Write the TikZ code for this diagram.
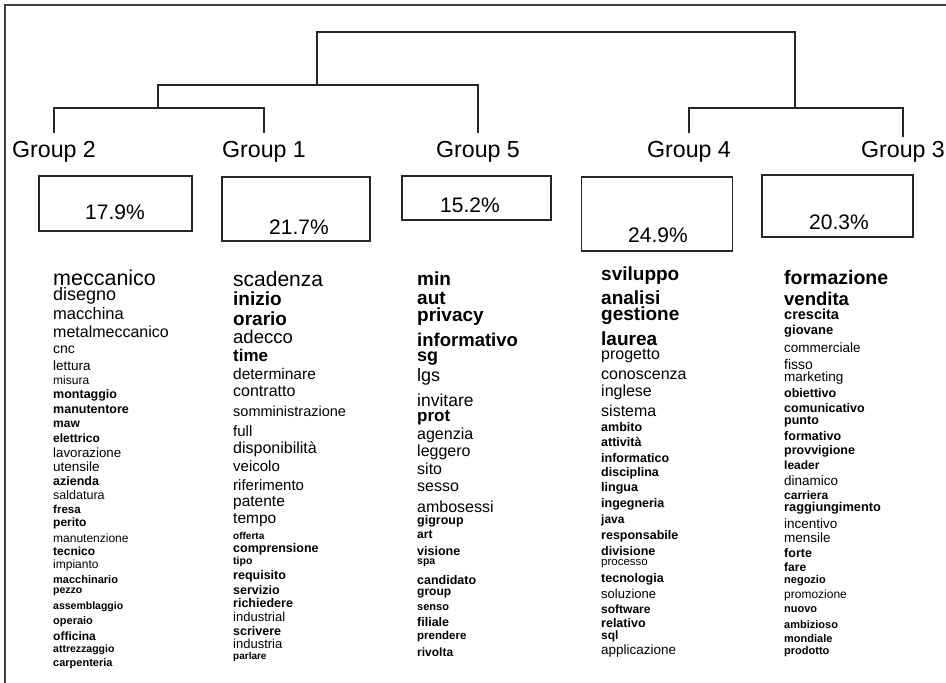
\documentclass[tikz,border=0pt]{standalone}
\usepackage{fontspec}
\setmainfont{Liberation Sans}
\begin{document}
\begin{tikzpicture}[x=1pt,y=-1pt,
  frame/.style={draw=black!75,line width=1.5pt},
  tree/.style={draw=black!85,line width=1.1pt},
  grp/.style={anchor=base,inner sep=0pt,font=\fontsize{23.2}{24}\selectfont},
  pbox/.style={draw=black!85,line width=1.2pt,rectangle,inner sep=0pt},
  pct/.style={inner sep=0pt,font=\fontsize{21}{22}\selectfont},
  word/.style={anchor=west,inner sep=0pt}]
\useasboundingbox (0,0) rectangle (946,683);
% frame (left and top rules only)
\draw[frame] (5,683) -- (5,5) -- (946,5);
% group labels
\node[grp] (g2) at (54,157) {Group 2};
\node[grp] (g1) at (264,157) {Group 1};
\node[grp] (g5) at (478,157) {Group 5};
\node[grp] (g4) at (689,157) {Group 4};
\node[grp] (g3) at (903,157) {Group 3};
\coordinate (t2) at ([yshift=8pt]g2.north);
\coordinate (t1) at ([yshift=8pt]g1.north);
\coordinate (t5) at ([yshift=8pt]g5.north);
\coordinate (t4) at ([yshift=8pt]g4.north);
\coordinate (t3) at ([yshift=4pt]g3.north);
\coordinate (j21) at (158,108);
\coordinate (j215) at (317,85);
\coordinate (j43) at (795,108);
\coordinate (top) at (556,32);
% dendrogram
\draw[tree] (t2) |- (j21) -| (t1);
\draw[tree] (j21) |- (j215) -| (t5);
\draw[tree] (t4) |- (j43) -| (t3);
\draw[tree] (j215) |- (top) -| (j43);
% percentage boxes
\node[pbox,minimum width=153pt,minimum height=55pt] (b2) at (115.5,203.5) {};
\node[pbox,minimum width=148pt,minimum height=64pt] (b1) at (296,209) {};
\node[pbox,minimum width=149pt,minimum height=44pt] (b5) at (476.5,198) {};
\node[pbox,minimum width=151pt,minimum height=74pt] (b4) at (657,214) {};
\node[pbox,minimum width=151pt,minimum height=62pt] (b3) at (837.5,206) {};
\node[pct] (p2) at (115,212) {17.9\%};
\node[pct] (p1) at (299,227) {21.7\%};
\node[pct] (p5) at (470,205) {15.2\%};
\node[pct] (p4) at (658,235) {24.9\%};
\node[pct] (p3) at (839,222) {20.3\%};
% word lists: y / font size / word
\foreach \y/\s/\t [count=\i] in {278/21.5/meccanico,296/18/disegno,314/16.5/macchina,332/16/metalmeccanico,350/14/cnc,366/13.5/lettura,380/12/misura,395/12.5/{\bfseries montaggio},409/12.5/{\bfseries manutentore},424/12/{\bfseries maw},438/12/{\bfseries elettrico},453/13.3/lavorazione,467/13.5/utensile,481/12.5/{\bfseries azienda},495/12.5/saldatura,509/11.5/{\bfseries fresa},523/12/{\bfseries perito},538/12/manutenzione,551/12/{\bfseries tecnico},565/12/impianto,580/11/{\bfseries macchinario},592/10.5/{\bfseries pezzo},607/10.5/{\bfseries assemblaggio},622/11/{\bfseries operaio},636/12/{\bfseries officina},650/10.5/{\bfseries attrezzaggio},664/11/{\bfseries carpenteria}}
  \node[word] (wa\i) at (53,\y) {\fontsize{\s}{\s}\selectfont\t};
\foreach \y/\s/\t [count=\i] in {279/21/scadenza,299/19/{\bfseries inizio},319/19/{\bfseries orario},337/18.5/adecco,355/17/{\bfseries time},374/15.5/determinare,391/16/contratto,411/14.5/somministrazione,431/15/full,449/16/disponibilità,466/15/veicolo,485/15/riferimento,503/15.5/patente,520/15.5/tempo,536/10/{\bfseries offerta},549/12.5/{\bfseries comprensione},562/10.5/{\bfseries tipo},576/12.5/{\bfseries requisito},590/12.5/{\bfseries servizio},603/12.5/{\bfseries richiedere},617/13/industrial,631/12.5/{\bfseries scrivere},644/13/industria,657/10/{\bfseries parlare}}
  \node[word] (wb\i) at (233,\y) {\fontsize{\s}{\s}\selectfont\t};
\foreach \y/\s/\t [count=\i] in {279/19/{\bfseries min},298/19/{\bfseries aut},317/19/{\bfseries privacy},340/18.5/{\bfseries informativo},359/18/{\bfseries sg},377/18/lgs,400/17.5/invitare,418/17/{\bfseries prot},435/16/agenzia,452/16/leggero,469/16/sito,487/16/sesso,507/16/ambosessi,521/12.5/{\bfseries gigroup},535/12/{\bfseries art},551/12.5/{\bfseries visione},563/10.5/{\bfseries spa},580/12.5/{\bfseries candidato},594/12/{\bfseries group},608/11/{\bfseries senso},622/12.5/{\bfseries filiale},637/11.5/{\bfseries prendere},652/12/{\bfseries rivolta}}
  \node[word] (wc\i) at (417,\y) {\fontsize{\s}{\s}\selectfont\t};
\foreach \y/\s/\t [count=\i] in {276/19/{\bfseries sviluppo},298/19/{\bfseries analisi},316/19/{\bfseries gestione},339/19/{\bfseries laurea},356/16/progetto,375/16/conoscenza,392/16/inglese,411/16/sistema,427/12.5/{\bfseries ambito},442/12.5/{\bfseries attività},458/12.5/{\bfseries informatico},473/12.5/{\bfseries disciplina},488/12.5/{\bfseries lingua},504/12.5/{\bfseries ingegneria},520/12/{\bfseries java},536/12.5/{\bfseries responsabile},551/12.5/{\bfseries divisione},564/11.5/processo,579/12.5/{\bfseries tecnologia},594/13/soluzione,609/12/{\bfseries software},623/12.5/{\bfseries relativo},636/12/{\bfseries sql},651/13.5/applicazione}
  \node[word] (wd\i) at (601,\y) {\fontsize{\s}{\s}\selectfont\t};
\foreach \y/\s/\t [count=\i] in {278/19.5/{\bfseries formazione},299/18.5/{\bfseries vendita},314/14.5/{\bfseries crescita},331/13/{\bfseries giovane},348/13.5/commerciale,364/14/fisso,378/13.5/marketing,393/12.5/{\bfseries obiettivo},408/12.5/{\bfseries comunicativo},422/12.5/{\bfseries punto},436/12.5/{\bfseries formativo},451/12.5/{\bfseries provvigione},465/12/{\bfseries leader},481/13.5/dinamico,495/12/{\bfseries carriera},508/12.8/{\bfseries raggiungimento},524/13.5/incentivo,538/13.5/mensile,553/12.5/{\bfseries forte},567/12/{\bfseries fare},581/11/{\bfseries negozio},595/12/promozione,610/11/{\bfseries nuovo},625/11/{\bfseries ambizioso},639/11/{\bfseries mondiale},652/11/{\bfseries prodotto}}
  \node[word] (we\i) at (784,\y) {\fontsize{\s}{\s}\selectfont\t};
\end{tikzpicture}
\end{document}
